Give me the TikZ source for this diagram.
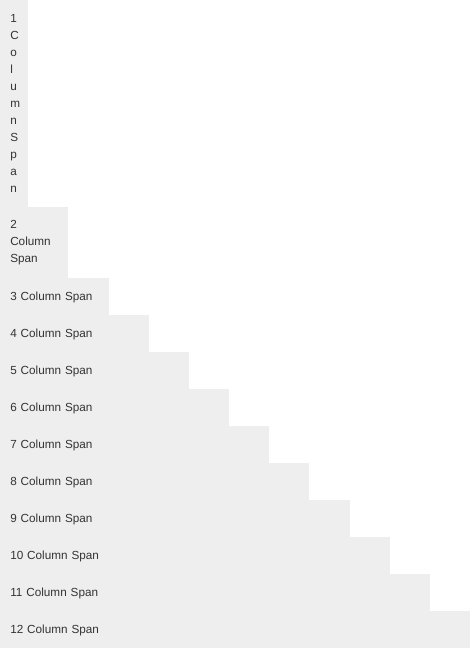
\documentclass[tikz,border=0pt]{standalone}
\usepackage{fontspec}
\setsansfont{Liberation Sans}
\usepackage{tikz}
\usetikzlibrary{positioning}
\definecolor{cellgrey}{HTML}{EEEEEE}
\definecolor{celltext}{HTML}{333333}

\begin{document}
\begin{tikzpicture}[
      x=0.75pt,y=-0.75pt,
      every node/.style={font=\sffamily\fontsize{8.8}{12.75}\selectfont,text=celltext},
      cell/.style={fill=cellgrey,anchor=north west,inner xsep=7.5pt,inner ysep=0pt,align=left,minimum height=27.75pt},
      rowcell/.style={cell,text height=7.9pt,text depth=1.9pt},
      tallcell/.style={cell,minimum height=155.25pt},
      midcell/.style={cell,minimum height=53.25pt}
    ]
    \useasboundingbox (0,0) rectangle (470,648);
    % first two spans wrap their text
    \node[tallcell,text width=6pt] (c1) at (0,0) {1\\C\\o\\l\\u\\m\\n\\S\\p\\a\\n};
    \node[midcell,text width=36pt] (c2) at (0,207) {2\\Column\\Span};
    % one row per span, each 40px wider
    \node[rowcell,text width=66.75pt] (c3) at (0,278) {3 Column Span};
    \node[rowcell,text width=96.75pt] (c4) at (0,315) {4 Column Span};
    \node[rowcell,text width=126.75pt] (c5) at (0,352) {5 Column Span};
    \node[rowcell,text width=156.75pt] (c6) at (0,389) {6 Column Span};
    \node[rowcell,text width=186.75pt] (c7) at (0,426) {7 Column Span};
    \node[rowcell,text width=216.75pt] (c8) at (0,463) {8 Column Span};
    \node[rowcell,text width=247.5pt] (c9) at (0,500) {9 Column Span};
    \node[rowcell,text width=277.5pt] (c10) at (0,537) {10 Column Span};
    \node[rowcell,text width=307.5pt] (c11) at (0,574) {11 Column Span};
    \node[rowcell,text width=337.5pt] (c12) at (0,611) {12 Column Span};
  \end{tikzpicture}
\end{document}
